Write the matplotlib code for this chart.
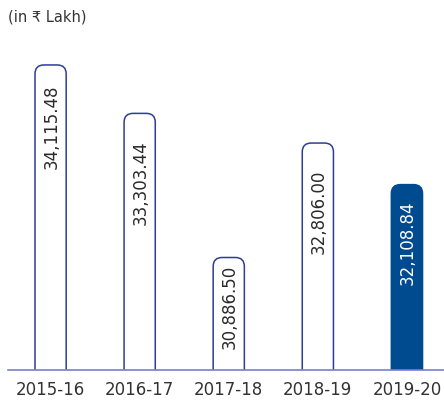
import matplotlib
matplotlib.use("Agg")
import matplotlib.pyplot as plt
from matplotlib.patches import FancyBboxPatch

years = ["2015-16", "2016-17", "2017-18", "2018-19", "2019-20"]
values = [34115.48, 33303.44, 30886.50, 32806.00, 32108.84]
highlight = [False, False, False, False, True]

# label offset below bar top, in pixels (hand placed in the original)
label_pad_px = [20, 27, 7, 27, 16]

dark = "#004a8f"
edge = "#2e3d96"

fig = plt.figure(figsize=(4.44, 4.05), dpi=100)
ax = fig.add_axes([8 / 444, 1 - 370 / 405, 1 - 8 / 444, (370 - 30) / 405])

y0 = 29000
upp = 16.77  # value units per pixel
ax.set_ylim(y0, y0 + upp * 340)
ax.set_xlim(-0.478, 4.416)

w = 0.35
r = 0.1
for i, (v, hl) in enumerate(zip(values, highlight)):
    box = FancyBboxPatch((i - w / 2, y0 - 2000), w, v - y0 + 2000,
                         boxstyle="round,pad=0,rounding_size=%f" % r,
                         mutation_aspect=upp * 89,
                         facecolor=dark if hl else "white",
                         edgecolor=dark if hl else edge, linewidth=1.1, zorder=2)
    ax.add_patch(box)
    ax.text(i + 0.01, v - label_pad_px[i] * upp, f"{v:,.2f}", rotation=90,
            ha="center", va="top", fontsize=12,
            color="white" if hl else "#2a2a2a", zorder=3)

ax.axhline(y0, color="#7b7fcc", linewidth=1.2, zorder=4, clip_on=False)

ax.set_xticks(range(len(years)))
ax.set_xticklabels(years, fontsize=12, color="#333333")
ax.tick_params(axis="x", length=0, pad=8)
ax.set_yticks([])
for s in ax.spines.values():
    s.set_visible(False)

fig.text(8 / 444, 1 - 17 / 405, "(in ₹ Lakh)", fontsize=10.5, color="#333333",
         va="center", ha="left", family=["DejaVu Sans", "Noto Sans"])

fig.savefig("out.png", dpi=100)
